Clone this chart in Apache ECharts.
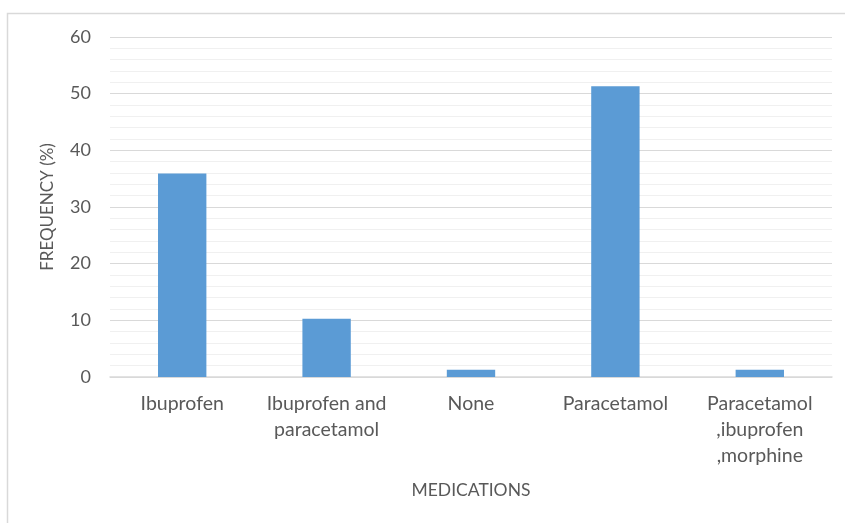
<!DOCTYPE html>
<html>
<head>
<meta charset="utf-8">
<script src="https://cdn.jsdelivr.net/npm/echarts@6/dist/echarts.min.js"></script>
<style>html,body{margin:0;padding:0;background:#fff;}#c{width:845px;height:523px;}</style>
</head>
<body>
<div id="c"></div>
<script>
const categories = ["Ibuprofen", "Ibuprofen and\nparacetamol", "None", "Paracetamol", "Paracetamol\n,ibuprofen\n,morphine"];
const frequency = [35.9, 10.3, 1.3, 51.3, 1.3];
const yTicks = [0, 10, 20, 30, 40, 50, 60];

const chart = echarts.init(document.getElementById('c'), null, {renderer: 'canvas'});
const font = 'Lato, "Open Sans", sans-serif';
chart.setOption({
  animation: false,
  textStyle: {fontFamily: font},
  graphic: [{
    type: 'rect', left: 5, top: 11, silent: true,
    shape: {width: 900, height: 600},
    style: {fill: 'none', stroke: '#d9d9d9', lineWidth: 1.5}
  }],
  grid: {left: 110, right: 13, top: 37, bottom: 146},
  xAxis: {
    type: 'category',
    data: categories,
    name: 'MEDICATIONS',
    nameLocation: 'middle',
    nameGap: 104,
    nameTextStyle: {color: '#595959', fontSize: 17.5, fontFamily: font},
    axisLine: {lineStyle: {color: '#d9d9d9', width: 1.5}},
    axisTick: {show: false},
    axisLabel: {color: '#595959', fontSize: 19.5, fontFamily: font, margin: 14, lineHeight: 26, interval: 0}
  },
  yAxis: {
    type: 'value',
    min: yTicks[0], max: yTicks[yTicks.length - 1], interval: 10,
    name: 'FREQUENCY (%)',
    nameLocation: 'middle',
    nameGap: 54,
    nameRotate: 90,
    nameTextStyle: {color: '#595959', fontSize: 17, fontFamily: font},
    axisLine: {show: false},
    axisTick: {show: false},
    axisLabel: {color: '#595959', fontSize: 18, fontFamily: font, margin: 19},
    splitLine: {lineStyle: {color: '#d9d9d9', width: 1}},
    minorTick: {show: false, splitNumber: 5},
    minorSplitLine: {show: true, lineStyle: {color: '#f0f0f0', width: 1}}
  },
  series: [{
    type: 'bar',
    data: frequency,
    barWidth: '33.5%',
    itemStyle: {color: '#5b9bd5'}
  }]
});
</script>
</body>
</html>
